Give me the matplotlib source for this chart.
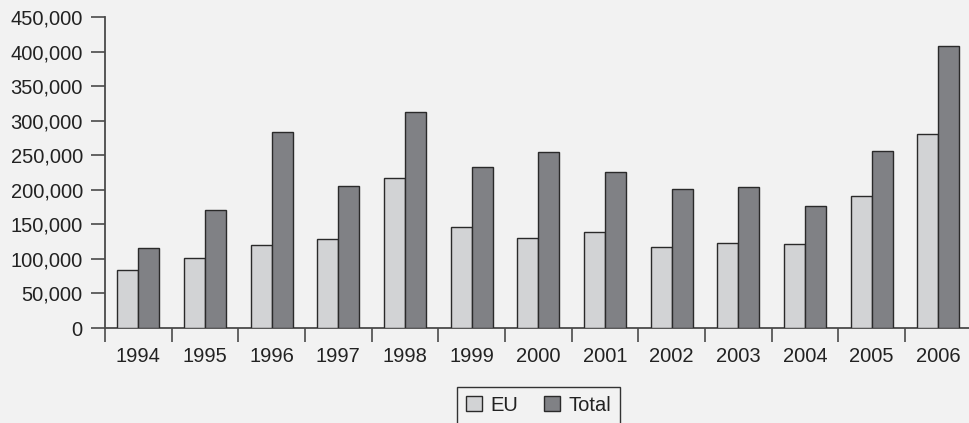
import matplotlib
matplotlib.use("Agg")
import matplotlib.pyplot as plt
import numpy as np
from matplotlib.ticker import FuncFormatter, FixedLocator

years = ["1994", "1995", "1996", "1997", "1998", "1999", "2000",
         "2001", "2002", "2003", "2004", "2005", "2006"]
eu = [84000, 102000, 120000, 128500, 217000, 147000, 131000,
      139500, 118000, 123500, 121000, 191000, 281500]
total = [115500, 171000, 284500, 205000, 313000, 233500, 255000,
         226000, 201500, 203500, 176000, 256500, 408500]

BG = "#f2f2f2"
plt.rcParams["font.family"] = ["Liberation Sans", "DejaVu Sans"]
plt.rcParams["font.size"] = 14.5
plt.rcParams["text.color"] = "#222222"

fig = plt.figure(figsize=(9.69, 4.23), dpi=100, facecolor=BG)
W, H = 969, 423
left, right = 105, 971.7
bottom, top = 328, 17.3
ax = fig.add_axes([left / W, (H - bottom) / H, (right - left) / W, (bottom - top) / H])
ax.set_facecolor(BG)

x = np.arange(len(years))
bw = 0.315
ax.bar(x - bw / 2, eu, bw, color="#d2d3d5", edgecolor="#2a2a2a", linewidth=1.0, label="EU", zorder=3)
ax.bar(x + bw / 2, total, bw, color="#808185", edgecolor="#2a2a2a", linewidth=1.0, label="Total", zorder=3)

ax.set_xlim(-0.5, len(years) - 0.5)
ax.set_ylim(0, 450000)
ax.set_yticks(np.arange(0, 450001, 50000))
ax.yaxis.set_major_formatter(FuncFormatter(lambda v, p: f"{int(v):,}"))

ax.set_xticks(x)
ax.set_xticklabels(years)
ax.xaxis.set_minor_locator(FixedLocator(np.arange(-0.5, len(years), 1.0)))
ax.tick_params(axis="x", which="major", length=0, pad=13.5, labelcolor="#222222")
ax.tick_params(axis="x", which="minor", length=10, width=1.2, color="#4a4a4a", direction="out")
ax.tick_params(axis="y", length=10, width=1.2, color="#4a4a4a", pad=6, labelcolor="#222222")

for s in ["top", "right"]:
    ax.spines[s].set_visible(False)
for s in ["left", "bottom"]:
    ax.spines[s].set_color("#4a4a4a")
    ax.spines[s].set_linewidth(1.3)

leg = fig.legend(loc="upper center", bbox_to_anchor=((left + right) / 2 / W, (H - 386.7) / H),
                 ncol=2, frameon=True, fancybox=False, edgecolor="#333333", facecolor=BG,
                 handlelength=0.8, handleheight=0.8, handletextpad=0.4, columnspacing=1.3,
                 borderpad=0.45, borderaxespad=0, fontsize=14.5)
leg.get_frame().set_linewidth(1.0)
leg.get_frame().set_alpha(1)

fig.savefig("out.png", dpi=100, facecolor=BG)
